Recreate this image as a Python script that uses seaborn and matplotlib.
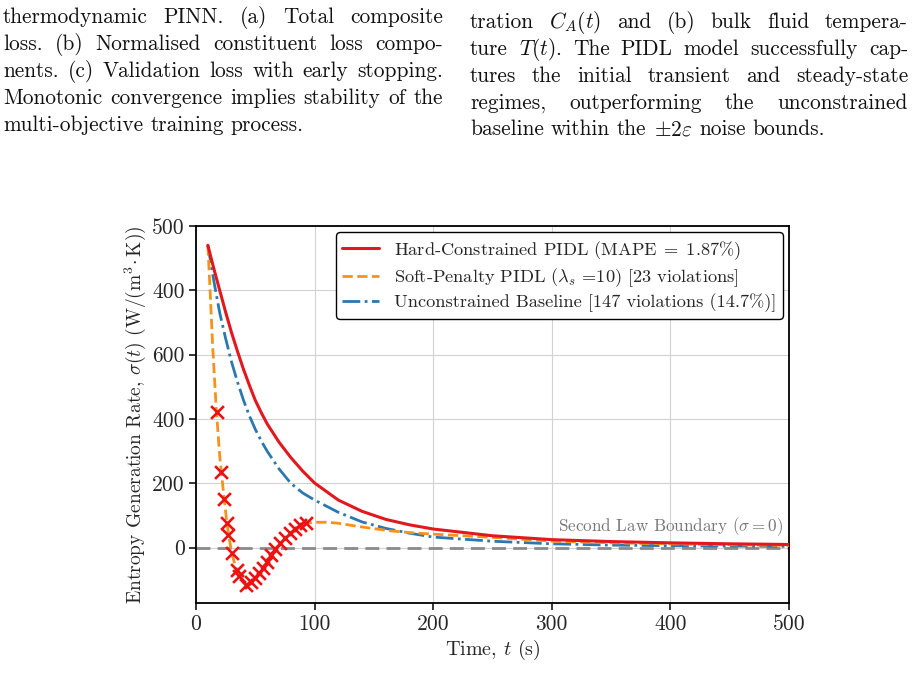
import numpy as np
import pandas as pd
import matplotlib
matplotlib.use("Agg")
import matplotlib.pyplot as plt
import seaborn as sns

# ---------------- data ----------------
t_hard = [10, 15, 20, 25, 30, 35, 40, 45, 50, 55, 60, 70, 80, 90, 100, 120, 140, 160, 180, 200, 250, 300,
          350, 400, 450, 500]
sigma_hard = [940, 868, 800, 732, 668, 610, 555, 505, 458, 420, 385, 328, 280, 238, 201, 148, 113, 88, 71, 58,
              37, 25, 19, 15, 12, 10]

t_base = [10, 15, 20, 25, 30, 35, 40, 45, 50, 55, 60, 70, 80, 90, 100, 120, 140, 160, 180, 200, 250, 300,
          350, 400, 450, 500]
sigma_base = [940, 830, 730, 650, 577, 515, 459, 410, 368, 332, 300, 245, 200, 170, 148, 110, 80, 60, 45, 33,
              20, 12, 8, 6, 5, 4]

t_soft = [10, 12, 14, 17, 20, 23, 26, 28, 30, 33, 36, 40, 42, 45, 50, 55, 60, 65, 70, 75, 80, 85, 90, 95,
          100, 110, 120, 135, 150, 165, 180, 200, 225, 250, 300, 350, 400, 450, 500]
sigma_soft = [940, 790, 630, 435, 285, 178, 78, 30, -15, -55, -87, -108, -115, -111, -93, -69, -44, -18, 8, 30,
              47, 61, 71, 77, 79, 79, 76, 67, 59, 52, 47, 42, 37, 32, 20, 15, 12, 9, 7]

t_viol = [17.4, 20.9, 23.9, 25.9, 27.2, 30.5, 34.5, 36.5, 42.0, 46.5, 50.0, 53.0, 56.5, 60.0, 63.5, 67.0,
          71.0, 75.0, 79.0, 83.5, 88.0, 92.5]
sigma_viol = [421, 234, 151, 77, 40, -17, -68, -88, -115, -106, -93, -79, -63, -44, -24, -5,
              13, 30, 45, 59, 69, 77]

x_ticks = [0, 100, 200, 300, 400, 500]
y_ticks = [0, 200, 400, 600, 800, 1000]
y_tick_labels = ["0", "200", "400", "600", "400", "500"]

labels = [r"Hard-Constrained PIDL (MAPE$\;=\;$1.87%)",
          r"Soft-Penalty PIDL ($\lambda_s$ =10) [23 violations]",
          r"Unconstrained Baseline [147 violations (14.7%)]"]

caption_left = ["thermodynamic PINN. (a) Total composite",
                "loss. (b) Normalised constituent loss compo-",
                "nents. (c) Validation loss with early stopping.",
                "Monotonic convergence implies stability of the",
                "multi-objective training process."]
caption_right = [r"tration $C_A(t)$ and (b) bulk fluid tempera-",
                 r"ture $T(t)$. The PIDL model successfully cap-",
                 "tures the initial transient and steady-state",
                 "regimes, outperforming the unconstrained",
                 r"baseline within the $\pm2\varepsilon$ noise bounds."]

# ---------------- style ----------------
sns.set_theme(style="whitegrid")
plt.rcParams["font.family"] = ["cmr10", "DejaVu Serif"]
plt.rcParams["mathtext.fontset"] = "cm"
plt.rcParams["axes.unicode_minus"] = False
plt.rcParams["axes.formatter.use_mathtext"] = True

W, H = 915, 696
fig = plt.figure(figsize=(W / 100, H / 100), dpi=100)
fig.patch.set_facecolor("white")
ax = fig.add_axes([196 / W, 1 - 603 / H, (789 - 196) / W, (603 - 226) / H])
ax.set_facecolor("white")

RED = "#e3181f"
ORANGE = "#f5921e"
BLUE = "#2b78b0"

df_hard = pd.DataFrame({"t": t_hard, "s": sigma_hard})
df_soft = pd.DataFrame({"t": t_soft, "s": sigma_soft})
df_base = pd.DataFrame({"t": t_base, "s": sigma_base})
df_viol = pd.DataFrame({"t": t_viol, "s": sigma_viol})

ax.axhline(0, color="#8a8a8a", lw=2.0, dashes=(5, 2.6), zorder=1.5)
sns.lineplot(data=df_hard, x="t", y="s", ax=ax, color=RED, lw=2.2, label=labels[0], zorder=4)
sns.lineplot(data=df_soft, x="t", y="s", ax=ax, color=ORANGE, lw=2.0, linestyle="--", label=labels[1], zorder=3)
sns.lineplot(data=df_base, x="t", y="s", ax=ax, color=BLUE, lw=2.0, linestyle="-.", label=labels[2], zorder=2)
sns.scatterplot(data=df_viol, x="t", y="s", ax=ax, marker="x", color="#ee1111", s=85, linewidth=1.9,
                zorder=5, legend=False)

ax.text(495, 30, r"Second Law Boundary ($\sigma=0$)", color="#777777", fontsize=12.3, ha="right", va="bottom")

ax.set_xlim(0, 500)
ax.set_ylim(-172, 1000)
ax.set_xticks(x_ticks)
ax.set_xticklabels([str(v) for v in x_ticks])
ax.set_yticks(y_ticks)
ax.set_yticklabels(y_tick_labels)
ax.tick_params(axis="both", which="major", labelsize=15.5, length=5, width=1.1, color="black",
               direction="out", left=True, bottom=True, pad=3)
ax.grid(True, color="#d2d2d2", lw=0.8)
for sp in ax.spines.values():
    sp.set_color("black")
    sp.set_linewidth(1.3)

ax.set_xlabel(r"Time, $t$ (s)", fontsize=14.5, labelpad=3)
ax.set_ylabel(r"Entropy Generation Rate, $\sigma(t)$ (W/(m$^3\!\cdot$K))", fontsize=14, labelpad=3)

leg = ax.legend(loc="upper right", fontsize=13.2, frameon=True, fancybox=True, framealpha=1,
                edgecolor="black", handlelength=2.0, borderaxespad=0.35, borderpad=0.35,
                labelspacing=0.25, handletextpad=0.8)
leg.get_frame().set_linewidth(1.0)

# ---------------- caption text (justified) ----------------
renderer = fig.canvas.get_renderer()


def place_line(text, x0, x1, baseline, size, justify=True):
    words = text.split(" ")
    objs = [fig.text(0, 1 - baseline / H, w, fontsize=size, color="#111111", va="baseline", ha="left")
            for w in words]
    widths = [o.get_window_extent(renderer).width for o in objs]
    if justify and len(words) > 1:
        gap = (x1 - x0 - sum(widths)) / (len(words) - 1)
    else:
        gap = size * 1.389 * 0.33
    pos = x0
    for o, w in zip(objs, widths):
        o.set_x(pos / W)
        pos += w + gap


CAP = 15.4
left_base = [23, 50, 77, 104, 131]
for i, line in enumerate(caption_left):
    place_line(line, 3, 443, left_base[i], CAP, justify=(i < len(caption_left) - 1))
right_base = [28, 55, 82, 109, 135]
for i, line in enumerate(caption_right):
    place_line(line, 470, 908, right_base[i], CAP, justify=(i < len(caption_right) - 1))

fig.savefig("out.png", dpi=100, facecolor="white")
